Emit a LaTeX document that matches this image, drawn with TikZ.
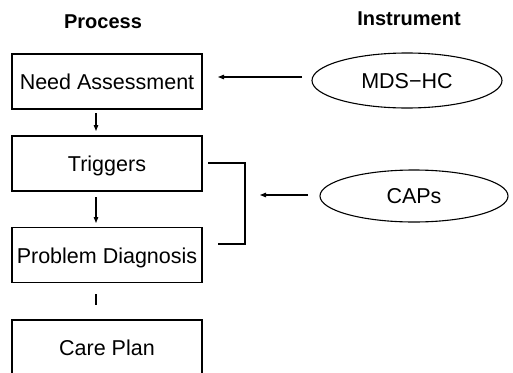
\documentclass[tikz,border=0pt]{standalone}
\usepackage{fontspec}
\setmainfont{Liberation Sans}
\usetikzlibrary{shapes.geometric,arrows.meta}
\tikzset{
  procbox/.style={draw, line width=1.1pt, minimum width=190pt, minimum height=55pt, inner sep=0pt,
    font=\fontsize{21.5}{21.5}\selectfont, text height=16pt, text depth=0pt},
  instr/.style={draw, ellipse, line width=1.1pt, inner sep=0pt,
    font=\fontsize{21.5}{21.5}\selectfont, text height=15pt, text depth=0pt},
  heading/.style={font=\fontsize{20}{20}\selectfont\bfseries, anchor=base, inner sep=0pt},
  conn/.style={line width=1.1pt},
  arr/.style={conn, -{Triangle[length=6pt,width=4.5pt]}}
}
\begin{document}
\begin{tikzpicture}[x=1pt,y=-1pt]
\useasboundingbox (0,0) rectangle (513,372);
\fill[white] (0,0) rectangle (513,372);
\clip (0,0) rectangle (513,372);

\node[heading] (hproc) at (103,28.5) {Process};
\node[heading] (hinst) at (409,25) {Instrument};

\node[procbox] (need) at (107,81.5) {Need Assessment};
\node[procbox] (trig) at (107,163.5) {Triggers};
\node[procbox] (diag) at (107,255) {Problem Diagnosis};
\node[procbox] (care) at (107,347.5) {Care Plan};

\node[instr, minimum width=190pt, minimum height=55pt] (mds) at (407,80.5) {MDS−HC};
\node[instr, minimum width=188pt, minimum height=52pt] (caps) at (414,196) {CAPs};

% vertical connectors
\coordinate (a1s) at (96,113);
\coordinate (a1e) at (96,131);
\draw[arr] (a1s) -- (a1e);
\coordinate (a2s) at (96,197);
\coordinate (a2e) at (96,223);
\draw[arr] (a2s) -- (a2e);
\coordinate (a3s) at (96,294);
\coordinate (a3e) at (96,305);
\draw[conn] (a3s) -- (a3e);

% instrument arrows
\coordinate (m1) at (302,77);
\coordinate (m2) at (218,77);
\draw[arr] (m1) -- (m2);
\coordinate (c1) at (308,195);
\coordinate (c2) at (260,195);
\draw[arr] (c1) -- (c2);

% bracket
\coordinate (b1) at (208,163);
\coordinate (b2) at (245,163);
\coordinate (b3) at (245,244);
\coordinate (b4) at (218,244);
\draw[conn] (b1) -- (b2) -- (b3) -- (b4);
\end{tikzpicture}
\end{document}
